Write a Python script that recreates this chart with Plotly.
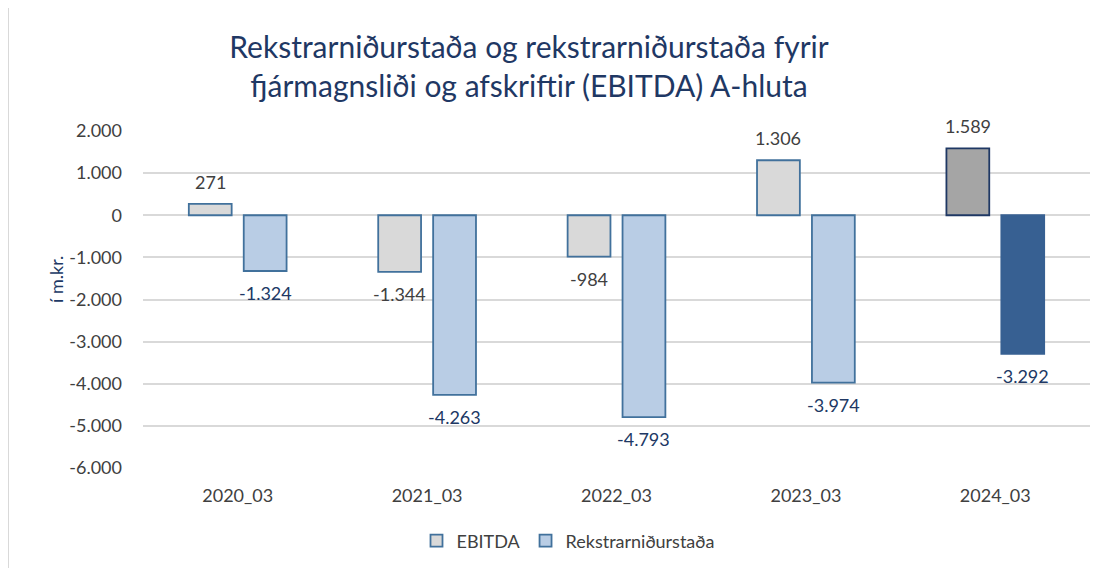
import plotly.graph_objects as go

categories = ["2020_03", "2021_03", "2022_03", "2023_03", "2024_03"]
ebitda = [271, -1344, -984, 1306, 1589]
rekstur = [-1324, -4263, -4793, -3974, -3292]
yticks = [2000, 1000, 0, -1000, -2000, -3000, -4000, -5000, -6000]

ebitda_fill = ["#D9D9D9"] * 4 + ["#A5A5A5"]
ebitda_line = ["#41719C"] * 4 + ["#1F3864"]
rek_fill = ["#B9CDE5"] * 4 + ["#376092"]
rek_line = ["#41719C"] * 4 + ["#376092"]

FONT = "Lato"
GRAY = "#404040"
NAVY = "#203864"


def fmt(v):
    return f"{v:,.0f}".replace(",", ".")


# the page body has an 8px margin; the figure is sized to fill the rest
OFF = 8
W, H = 1105 - OFF, 568 - OFF
L, R, T, B = 143 - OFF, 15, 131 - OFF, 100
pw, ph = W - L - R, H - T - B

fig = go.Figure()
fig.add_trace(go.Bar(
    x=categories, y=ebitda, name="EBITDA",
    marker=dict(color=ebitda_fill, line=dict(color=ebitda_line, width=1.8)),
))
fig.add_trace(go.Bar(
    x=categories, y=rekstur, name="Rekstrarniðurstaða",
    marker=dict(color=rek_fill, line=dict(color=rek_line, width=1.8)),
))

bargap = 0.42
slot = pw / len(categories) * (1 - bargap) / 2
annotations = []
for series, sign, col in ((ebitda, -1, GRAY), (rekstur, 1, NAVY)):
    for c, v in zip(categories, series):
        annotations.append(dict(
            x=c, y=v, xref="x", yref="y", text=fmt(v), showarrow=False,
            xshift=sign * slot / 2, yshift=22 if v > 0 else -22,
            font=dict(family=FONT, size=18, color=col),
        ))

annotations.append(dict(
    text="í m.kr.", xref="paper", yref="paper",
    x=(56 - 143) / pw, y=(468 - 280) / ph, textangle=-90, showarrow=False,
    xanchor="center", yanchor="middle",
    font=dict(family=FONT, size=18, color=NAVY),
))

fig.update_layout(
    width=W, height=H,
    margin=dict(l=L, r=R, t=T, b=B, autoexpand=False),
    paper_bgcolor="white", plot_bgcolor="white",
    barmode="group", bargap=bargap, bargroupgap=0.22,
    title=dict(
        text="Rekstrarniðurstaða og rekstrarniðurstaða fyrir<br>fjármagnsliði og afskriftir (EBITDA) A-hluta",
        x=521 / W, xref="container", xanchor="center",
        y=1 - 50 / H, yref="container", yanchor="middle",
        font=dict(family=FONT, size=30, color="#1F3864"),
    ),
    font=dict(family=FONT, size=18, color=GRAY),
    showlegend=True,
    legend=dict(
        orientation="h", x=(568 - 143) / pw, xanchor="center",
        yref="container", y=1 - (541 - OFF) / H, yanchor="middle",
        font=dict(family=FONT, size=18, color=GRAY),
        itemwidth=30, traceorder="normal",
    ),
    xaxis=dict(
        showgrid=False, showline=False, ticks="", automargin=False,
        tickfont=dict(family=FONT, size=18, color=GRAY),
        ticklabelstandoff=15,
    ),
    yaxis=dict(
        range=[-6000, 2000], tickvals=yticks, ticktext=[fmt(t) for t in yticks],
        showgrid=True, gridcolor="#D9D9D9", gridwidth=1.5,
        zeroline=True, zerolinecolor="#D9D9D9", zerolinewidth=1.5,
        showline=False, ticks="", automargin=False,
        tickfont=dict(family=FONT, size=18, color=GRAY),
        ticklabelstandoff=20,
    ),
    annotations=annotations,
    shapes=[dict(
        type="rect", xref="paper", yref="paper", layer="below",
        x0=(8 - 143) / pw, x1=(1120 - 143) / pw,
        y0=(468 - 580) / ph, y1=(468 - 7) / ph,
        line=dict(color="#D9D9D9", width=2),
    )],
)

fig.write_html("out.html")
